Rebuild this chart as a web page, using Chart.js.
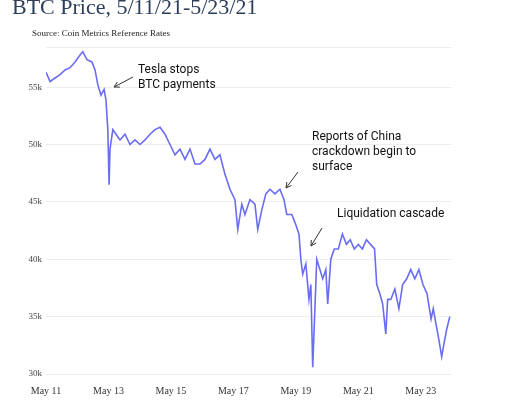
<!DOCTYPE html>
<html>
<head>
<meta charset="utf-8">
<script src="https://cdn.jsdelivr.net/npm/chart.js@4"></script>
<style>
  body { margin: 0; background: #fff; }
  #wrap { position: relative; width: 520px; height: 400px; }
  h1 { position: absolute; left: 12px; top: -6px; margin: 0; font: 22px "Liberation Serif", serif; color: #2c3e5c; font-weight: normal; }
  .src { position: absolute; left: 32px; top: 28px; font: 9px "Liberation Serif", serif; color: #222; }
</style>
</head>
<body>
<div id="wrap">
  <h1>BTC Price, 5/11/21-5/23/21</h1>
  <div class="src">Source: Coin Metrics Reference Rates</div>
  <canvas id="btcCanvas" width="520" height="400"></canvas>
</div>
<script>
// days since May 11 00:00
const days = [0, 0.13, 0.29, 0.45, 0.61, 0.77, 0.93, 1.09, 1.18, 1.31, 1.47, 1.57, 1.66, 1.76, 1.86, 1.92, 1.98, 2.02, 2.05, 2.14, 2.24, 2.37, 2.53, 2.69, 2.85, 3.01, 3.17, 3.33, 3.49, 3.65, 3.81, 3.97, 4.13, 4.29, 4.45, 4.61, 4.77, 4.93, 5.09, 5.25, 5.41, 5.57, 5.73, 5.89, 6.05, 6.14, 6.27, 6.37, 6.53, 6.69, 6.78, 6.91, 7.04, 7.17, 7.33, 7.49, 7.62, 7.71, 7.87, 8.00, 8.10, 8.16, 8.22, 8.32, 8.42, 8.48, 8.54, 8.61, 8.67, 8.77, 8.86, 8.96, 9.02, 9.12, 9.23, 9.36, 9.49, 9.62, 9.74, 9.87, 10.0, 10.13, 10.26, 10.39, 10.52, 10.59, 10.69, 10.78, 10.88, 10.94, 11.04, 11.17, 11.30, 11.42, 11.55, 11.68, 11.81, 11.94, 12.07, 12.20, 12.33, 12.40, 12.49, 12.58, 12.67, 12.74, 12.83, 12.93];
const prices = [56.3, 55.5, 55.8, 56.1, 56.5, 56.7, 57.2, 57.8, 58.1, 57.4, 57.2, 56.5, 55.2, 54.3, 54.8, 53.9, 51.3, 46.5, 49.6, 51.3, 50.9, 50.4, 50.9, 50.0, 50.4, 50.0, 50.4, 50.9, 51.3, 51.5, 50.9, 50.0, 49.1, 49.6, 48.7, 49.6, 48.3, 48.3, 48.7, 49.6, 48.7, 49.1, 47.4, 46.1, 45.2, 42.6, 44.8, 43.9, 45.2, 44.8, 42.6, 44.3, 45.7, 46.1, 45.7, 46.1, 45.2, 43.9, 43.9, 43.0, 42.2, 40.0, 38.7, 39.6, 36.5, 37.8, 30.6, 35.7, 40.0, 39.1, 38.3, 39.1, 36.1, 40.0, 40.9, 40.9, 42.2, 41.3, 41.7, 40.9, 41.3, 40.9, 41.7, 41.3, 40.9, 37.8, 37.0, 36.1, 33.5, 36.5, 36.5, 37.4, 35.7, 37.8, 38.3, 39.1, 38.3, 39.1, 37.8, 37.0, 34.8, 35.7, 34.3, 33.0, 31.5, 32.6, 33.9, 35.0];
const tickLabels = ['May 11', 'May 13', 'May 15', 'May 17', 'May 19', 'May 21', 'May 23'];

const notes = [
    { lines: ['Tesla stops', 'BTC payments'], x: 138, y: 70, arrow: [133, 77, 114, 87] },
    { lines: ['Reports of China', 'crackdown begin to', 'surface'], x: 312, y: 137, arrow: [298, 172, 286, 188] },
    { lines: ['Liquidation cascade'], x: 337, y: 214, arrow: [322, 228, 311, 246] }
];

const notePlugin = {
    id: 'notes',
    afterDraw(chart) {
        const ctx = chart.ctx;
        ctx.save();
        ctx.fillStyle = '#111';
        ctx.strokeStyle = '#333';
        ctx.lineWidth = 1;
        ctx.font = '12px Roboto, sans-serif';
        ctx.textBaseline = 'middle';
        notes.forEach(n => {
            n.lines.forEach((l, i) => ctx.fillText(l, n.x, n.y + i * 15));
            const [x1, y1, x2, y2] = n.arrow;
            ctx.beginPath();
            ctx.moveTo(x1, y1);
            ctx.lineTo(x2, y2);
            const a = Math.atan2(y2 - y1, x2 - x1);
            ctx.moveTo(x2, y2);
            ctx.lineTo(x2 - 6 * Math.cos(a - 0.5), y2 - 6 * Math.sin(a - 0.5));
            ctx.moveTo(x2, y2);
            ctx.lineTo(x2 - 6 * Math.cos(a + 0.5), y2 - 6 * Math.sin(a + 0.5));
            ctx.stroke();
        });
        ctx.restore();
    }
};

const btcContext = document.getElementById('btcCanvas').getContext('2d');

new Chart(btcContext, {
    type: 'line',
    data: {
        datasets: [{
            data: days.map((d, i) => ({ x: d, y: prices[i] })),
            borderColor: '#6a6df2',
            borderWidth: 1.6,
            pointRadius: 0,
            tension: 0
        }]
    },
    options: {
        responsive: false,
        animation: false,
        layout: { padding: { top: 47, right: 68, bottom: 0, left: 0 } },
        plugins: { legend: { display: false }, tooltip: { enabled: false } },
        scales: {
            x: {
                type: 'linear',
                min: 0,
                max: 13,
                grid: { display: false },
                border: { display: false },
                ticks: {
                    stepSize: 2,
                    maxRotation: 0,
                    color: '#333',
                    font: { family: 'Liberation Serif', size: 10 },
                    callback: v => tickLabels[v / 2]
                }
            },
            y: {
                min: 30,
                max: 58.5,
                border: { display: false },
                grid: { color: '#eeeeee', drawTicks: false },
                ticks: {
                    stepSize: 5,
                    padding: 4,
                    color: '#444',
                    font: { family: 'Liberation Serif', size: 9 },
                    callback: v => (v % 5 === 0 ? v + 'k' : '')
                },
                afterFit: s => { s.width = 46; }
            }
        }
    },
    plugins: [notePlugin]
});
</script>
</body>
</html>
